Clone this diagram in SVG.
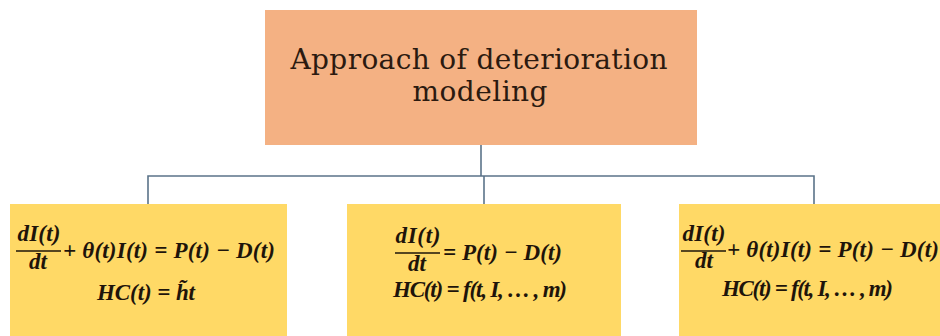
<svg xmlns="http://www.w3.org/2000/svg" width="940" height="336" viewBox="0 0 940 336">
<style>
.top{fill:#F4B183;}
.leaf{fill:#FFD966;}
.title{font-family:"DejaVu Serif","Liberation Serif",serif;font-size:28px;fill:#2b1a10;text-anchor:middle;}
.eq{font-family:"Liberation Serif","DejaVu Serif",serif;font-size:23px;font-weight:bold;font-style:italic;fill:#1e140a;}
.c{text-anchor:middle;}
.bar{stroke:#1e140a;stroke-width:1.4;}
.conn{stroke:#5B7389;stroke-width:1.6;fill:none;}
</style>
<rect width="940" height="336" fill="#ffffff"/>
<g id="connectors">
<path class="conn" d="M481,145 V176"/>
<path class="conn" d="M148,204 V176 H814 V204"/>
<path class="conn" d="M484,176 V204"/>
</g>
<g id="root">
<rect class="top" x="265" y="10" width="432" height="135"/>
<text class="title" x="479" y="69" textLength="377">Approach of deterioration</text>
<text class="title" x="480" y="101" textLength="135">modeling</text>
</g>
<g id="model1">
<rect class="leaf" x="10" y="204" width="277" height="132"/>
<text class="eq c" x="39" y="241" textLength="43">dI(t)</text>
<line class="bar" x1="16" y1="251" x2="61" y2="251"/>
<text class="eq c" x="38" y="269">dt</text>
<text class="eq" x="63" y="258" textLength="212">+ θ(t)I(t) = P(t) − D(t)</text>
<text class="eq c" x="146" y="300" textLength="98">HC(t) = h̃t</text>
</g>
<g id="model2">
<rect class="leaf" x="347" y="204" width="274" height="132"/>
<text class="eq c" x="418" y="243" textLength="45">dI(t)</text>
<line class="bar" x1="395" y1="253" x2="440" y2="253"/>
<text class="eq c" x="417" y="271">dt</text>
<text class="eq" x="443" y="260" textLength="119">= P(t) − D(t)</text>
<text class="eq" x="393" y="297" textLength="174">HC(t) = f(t, I, … , m)</text>
</g>
<g id="model3">
<rect class="leaf" x="679" y="204" width="261" height="132"/>
<text class="eq c" x="704" y="241" textLength="43">dI(t)</text>
<line class="bar" x1="681" y1="251" x2="726" y2="251"/>
<text class="eq c" x="704" y="268">dt</text>
<text class="eq" x="727" y="257" textLength="212">+ θ(t)I(t) = P(t) − D(t)</text>
<text class="eq" x="722" y="296" textLength="171">HC(t) = f(t, I, … , m)</text>
</g>
</svg>
